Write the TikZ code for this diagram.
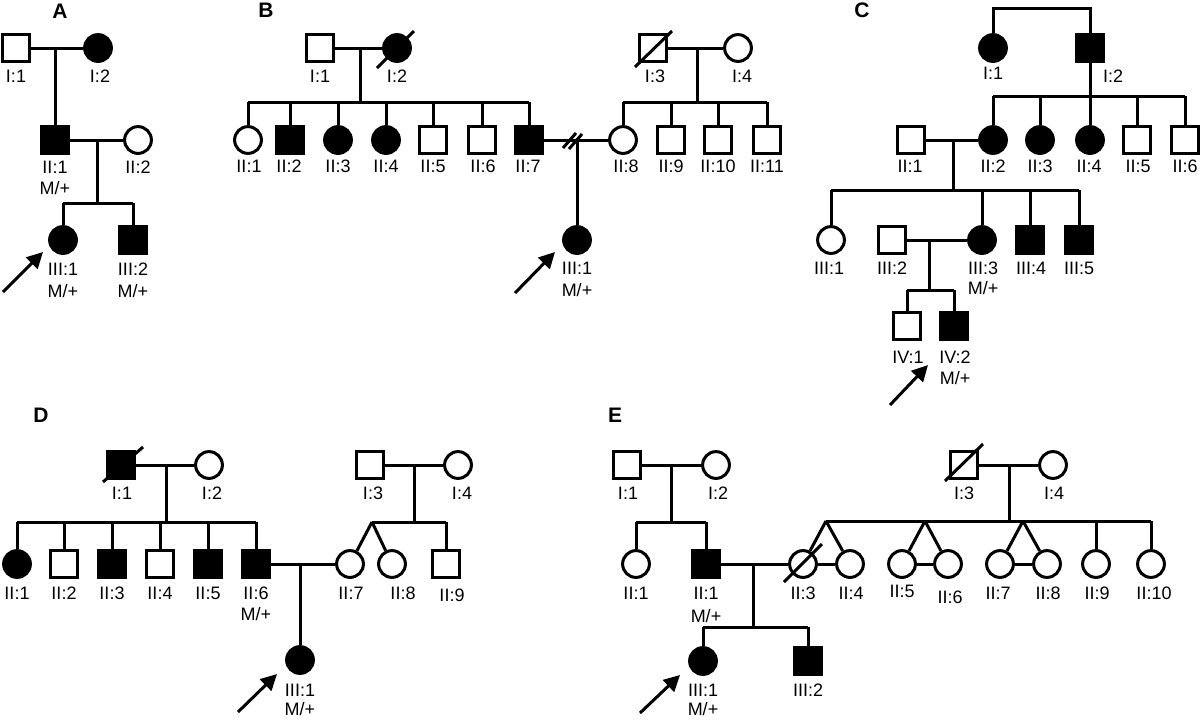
\documentclass[tikz,border=0pt]{standalone}
\usepackage{fontspec}
\setmainfont{Liberation Sans}
\usetikzlibrary{arrows.meta}
\tikzset{
 ln/.style={line width=1.5pt},
 male/.style={draw, rectangle, minimum size=13.4pt, inner sep=0pt, line width=1.5pt, fill=white},
 female/.style={draw, circle, minimum size=13.4pt, inner sep=0pt, line width=1.5pt, fill=white},
 aff/.style={fill=black},
 lab/.style={font=\fontsize{9}{10}\selectfont, inner sep=0pt},
 panel/.style={font=\bfseries\fontsize{10.5}{12}\selectfont, inner sep=0pt},
 proband/.style={line width=1.5pt, -{Triangle[length=8pt,width=8pt]}},
}
\begin{document}
\begin{tikzpicture}[x=0.5pt,y=-0.5pt]
\useasboundingbox (0,0) rectangle (1200,720);
% ================= Panel A =================
\node[panel] (pA) at (60,11) {A};
\node[male] (A11) at (16,48) {};
\node[female,aff] (A12) at (98,48) {};
\node[male,aff] (A21) at (55,140) {};
\node[female] (A22) at (138,140) {};
\node[female,aff] (A31) at (63,240) {};
\node[male,aff] (A32) at (133,240) {};
\node[lab] (lA11) at (16,76) {I:1};
\node[lab] (lA12) at (100,76) {I:2};
\node[lab] (lA21) at (55,167) {II:1};
\node[lab] (gA21) at (55,188) {M/+};
\node[lab] (lA22) at (138,167) {II:2};
\node[lab] (lA31) at (63,269) {III:1};
\node[lab] (gA31) at (63,291) {M/+};
\node[lab] (lA32) at (133,269) {III:2};
\node[lab] (gA32) at (133,291) {M/+};
\coordinate (mA1) at (55,48);
\coordinate (mA2) at (97,140);
\coordinate (sA2) at (97,203);
\draw[ln] (A11) -- (A12);
\draw[ln] (mA1) -- (A21);
\draw[ln] (A21) -- (A22);
\draw[ln] (mA2) -- (sA2);
\draw[ln] (A31 |- sA2) -- (A32 |- sA2);
\draw[ln] (A31 |- sA2) -- (A31);
\draw[ln] (A32 |- sA2) -- (A32);
\coordinate (tA) at (3,292);
\coordinate (hA) at (43,252);
\draw[proband] (tA) -- (hA);
% ================= Panel B =================
\node[panel] (pB) at (266,10) {B};
\node[male] (B11) at (320,48) {};
\node[female,aff] (B12) at (397,48) {};
\node[male] (B13) at (653,48) {};
\node[female] (B14) at (738,48) {};
\node[female] (B21) at (248,140) {};
\node[male,aff] (B22) at (290,140) {};
\node[female,aff] (B23) at (338,140) {};
\node[female,aff] (B24) at (386,140) {};
\node[male] (B25) at (433,140) {};
\node[male] (B26) at (482,140) {};
\node[male,aff] (B27) at (529,140) {};
\node[female] (B28) at (623,140) {};
\node[male] (B29) at (671,140) {};
\node[male] (B210) at (718,140) {};
\node[male] (B211) at (767,140) {};
\node[female,aff] (B31) at (577,240) {};
\node[lab] (lB11) at (320,76) {I:1};
\node[lab] (lB12) at (397,76) {I:2};
\node[lab] (lB13) at (655,76) {I:3};
\node[lab] (lB14) at (742,76) {I:4};
\node[lab] (lB21) at (249,166) {II:1};
\node[lab] (lB22) at (289,166) {II:2};
\node[lab] (lB23) at (338,166) {II:3};
\node[lab] (lB24) at (386,166) {II:4};
\node[lab] (lB25) at (433,166) {II:5};
\node[lab] (lB26) at (483,166) {II:6};
\node[lab] (lB27) at (528,166) {II:7};
\node[lab] (lB28) at (626,166) {II:8};
\node[lab] (lB29) at (671,166) {II:9};
\node[lab] (lB210) at (718,166) {II:10};
\node[lab] (lB211) at (767,166) {II:11};
\node[lab] (lB31) at (577,268) {III:1};
\node[lab] (gB31) at (577,290) {M/+};
\coordinate (mB1) at (360,48);
\coordinate (sB1) at (360,102);
\coordinate (mB2) at (697,48);
\coordinate (sB2) at (697,102);
\coordinate (mB3) at (577,140);
\coordinate (dsB) at (572,140);
\draw[ln] (B11) -- (B12);
\draw[ln] (B13) -- (B14);
\draw[ln] (mB1) -- (sB1);
\draw[ln] (mB2) -- (sB2);
\draw[ln] (B21 |- sB1) -- (B27 |- sB1);
\draw[ln] (B28 |- sB2) -- (B211 |- sB2);
\foreach \n in {B21,B22,B23,B24,B25,B26,B27}{\draw[ln] (\n |- sB1) -- (\n);}
\foreach \n in {B28,B29,B210,B211}{\draw[ln] (\n |- sB2) -- (\n);}
\draw[ln] (B27) -- (B28);
\draw[ln] ([shift={(-9,8)}]dsB) -- ([shift={(4,-7)}]dsB);
\draw[ln] ([shift={(-3,9)}]dsB) -- ([shift={(10,-6)}]dsB);
\draw[ln] (mB3) -- (B31);
\draw[ln] ([shift={(-20,20)}]B12.center) -- ([shift={(17,-17)}]B12.center);
\draw[ln] ([shift={(-18,19)}]B13.center) -- ([shift={(19,-17)}]B13.center);
\coordinate (tB) at (515,293);
\coordinate (hB) at (555,252);
\draw[proband] (tB) -- (hB);
% ================= Panel C =================
\node[panel] (pC) at (862,10) {C};
\node[female,aff] (C11) at (993,48) {};
\node[male,aff] (C12) at (1090,48) {};
\node[male] (C21) at (911,140) {};
\node[female,aff] (C22) at (993,140) {};
\node[female,aff] (C23) at (1040,140) {};
\node[female,aff] (C24) at (1090,140) {};
\node[male] (C25) at (1137,140) {};
\node[male] (C26) at (1185,140) {};
\node[female] (C31) at (831,240) {};
\node[male] (C32) at (892,240) {};
\node[female,aff] (C33) at (982,240) {};
\node[male,aff] (C34) at (1030,240) {};
\node[male,aff] (C35) at (1079,240) {};
\node[male] (C41) at (907,326) {};
\node[male,aff] (C42) at (954,326) {};
\node[lab] (lC11) at (993,73) {I:1};
\node[lab] (lC12) at (1113,76) {I:2};
\node[lab] (lC21) at (910,166) {II:1};
\node[lab] (lC22) at (993,166) {II:2};
\node[lab] (lC23) at (1040,166) {II:3};
\node[lab] (lC24) at (1089,166) {II:4};
\node[lab] (lC25) at (1138,166) {II:5};
\node[lab] (lC26) at (1185,166) {II:6};
\node[lab] (lC31) at (829,268) {III:1};
\node[lab] (lC32) at (892,268) {III:2};
\node[lab] (lC33) at (983,268) {III:3};
\node[lab] (gC33) at (983,288) {M/+};
\node[lab] (lC34) at (1031,268) {III:4};
\node[lab] (lC35) at (1079,268) {III:5};
\node[lab] (lC41) at (908,357) {IV:1};
\node[lab] (lC42) at (955,357) {IV:2};
\node[lab] (gC42) at (955,378) {M/+};
\coordinate (tC) at (1041,8);
\coordinate (sC1) at (1090,96);
\coordinate (mC2) at (953,140);
\coordinate (sC2) at (953,190);
\coordinate (mC3) at (929,240);
\coordinate (sC3) at (929,290);
\draw[ln] (C11) -- (C11 |- tC) -- (C12 |- tC) -- (C12);
\draw[ln] (C12) -- (sC1);
\draw[ln] (C22 |- sC1) -- (C26 |- sC1);
\foreach \n in {C22,C23,C24,C25,C26}{\draw[ln] (\n |- sC1) -- (\n);}
\draw[ln] (C21) -- (C22);
\draw[ln] (mC2) -- (sC2);
\draw[ln] (C31 |- sC2) -- (C35 |- sC2);
\foreach \n in {C31,C33,C34,C35}{\draw[ln] (\n |- sC2) -- (\n);}
\draw[ln] (C32) -- (C33);
\draw[ln] (mC3) -- (sC3);
\draw[ln] (C41 |- sC3) -- (C42 |- sC3);
\foreach \n in {C41,C42}{\draw[ln] (\n |- sC3) -- (\n);}
\coordinate (tCa) at (890,405);
\coordinate (hCa) at (928,365);
\draw[proband] (tCa) -- (hCa);
% ================= Panel D =================
\node[panel] (pD) at (41,415) {D};
\node[male,aff] (D11) at (121,465) {};
\node[female] (D12) at (209,465) {};
\node[male] (D13) at (370,465) {};
\node[female] (D14) at (458,465) {};
\node[female,aff] (D21) at (17,564) {};
\node[male] (D22) at (64,564) {};
\node[male,aff] (D23) at (112,564) {};
\node[male] (D24) at (160,564) {};
\node[male,aff] (D25) at (208,564) {};
\node[male,aff] (D26) at (256,564) {};
\node[female] (D27) at (350,564) {};
\node[female] (D28) at (392,564) {};
\node[male] (D29) at (446,564) {};
\node[female,aff] (D31) at (300,660) {};
\node[lab] (lD11) at (122,493) {I:1};
\node[lab] (lD12) at (212,493) {I:2};
\node[lab] (lD13) at (373,493) {I:3};
\node[lab] (lD14) at (462,493) {I:4};
\node[lab] (lD21) at (17,593) {II:1};
\node[lab] (lD22) at (64,593) {II:2};
\node[lab] (lD23) at (112,593) {II:3};
\node[lab] (lD24) at (160,593) {II:4};
\node[lab] (lD25) at (208,593) {II:5};
\node[lab] (lD26) at (256,593) {II:6};
\node[lab] (gD26) at (256,614) {M/+};
\node[lab] (lD27) at (351,593) {II:7};
\node[lab] (lD28) at (403,593) {II:8};
\node[lab] (lD29) at (452,595) {II:9};
\node[lab] (lD31) at (300,690) {III:1};
\node[lab] (gD31) at (300,709) {M/+};
\coordinate (mD1) at (166,465);
\coordinate (sD1) at (166,522);
\coordinate (mD2) at (414,465);
\coordinate (sD2) at (414,522);
\coordinate (twD) at (372,522);
\coordinate (mD3) at (300,564);
\draw[ln] (D11) -- (D12);
\draw[ln] (D13) -- (D14);
\draw[ln] (mD1) -- (sD1);
\draw[ln] (mD2) -- (sD2);
\draw[ln] (D21 |- sD1) -- (D26 |- sD1);
\foreach \n in {D21,D22,D23,D24,D25,D26}{\draw[ln] (\n |- sD1) -- (\n);}
\draw[ln] (twD) -- (D29 |- sD2);
\draw[ln] (D29 |- sD2) -- (D29);
\draw[ln] (twD) -- (D27);
\draw[ln] (twD) -- (D28);
\draw[ln] (D26) -- (D27);
\draw[ln] (mD3) -- (D31);
\draw[ln] ([shift={(-18,17)}]D11.center) -- ([shift={(22,-18)}]D11.center);
\coordinate (tD) at (238,712);
\coordinate (hD) at (277,674);
\draw[proband] (tD) -- (hD);
% ================= Panel E =================
\node[panel] (pE) at (615,415) {E};
\node[male] (E11) at (627,465) {};
\node[female] (E12) at (716,465) {};
\node[male] (E13) at (964,465) {};
\node[female] (E14) at (1053,465) {};
\node[female] (E21) at (636,564) {};
\node[male,aff] (E22) at (706,564) {};
\node[female] (E23) at (803,564) {};
\node[female] (E24) at (850,564) {};
\node[female] (E25) at (902,564) {};
\node[female] (E26) at (948,564) {};
\node[female] (E27) at (1000,564) {};
\node[female] (E28) at (1047,564) {};
\node[female] (E29) at (1096,564) {};
\node[female] (E210) at (1151,564) {};
\node[female,aff] (E31) at (703,661) {};
\node[male,aff] (E32) at (808,661) {};
\node[lab] (lE11) at (628,493) {I:1};
\node[lab] (lE12) at (718,493) {I:2};
\node[lab] (lE13) at (964,493) {I:3};
\node[lab] (lE14) at (1054,493) {I:4};
\node[lab] (lE21) at (636,593) {II:1};
\node[lab] (lE22) at (706,593) {II:1};
\node[lab] (gE22) at (706,616) {M/+};
\node[lab] (lE23) at (803,593) {II:3};
\node[lab] (lE24) at (851,593) {II:4};
\node[lab] (lE25) at (902,591) {II:5};
\node[lab] (lE26) at (950,597) {II:6};
\node[lab] (lE27) at (998,593) {II:7};
\node[lab] (lE28) at (1048,593) {II:8};
\node[lab] (lE29) at (1097,593) {II:9};
\node[lab] (lE210) at (1154,593) {II:10};
\node[lab] (lE31) at (703,690) {III:1};
\node[lab] (gE31) at (703,709) {M/+};
\node[lab] (lE32) at (808,690) {III:2};
\coordinate (mE1) at (671,465);
\coordinate (sE1) at (671,522);
\coordinate (mE2) at (1009,465);
\coordinate (sE2) at (1009,521);
\coordinate (twE1) at (826,521);
\coordinate (twE2) at (925,521);
\coordinate (twE3) at (1023,521);
\coordinate (mE3) at (753,564);
\coordinate (sE3) at (753,627);
\draw[ln] (E11) -- (E12);
\draw[ln] (E13) -- (E14);
\draw[ln] (mE1) -- (sE1);
\draw[ln] (E21 |- sE1) -- (E22 |- sE1);
\foreach \n in {E21,E22}{\draw[ln] (\n |- sE1) -- (\n);}
\draw[ln] (mE2) -- (sE2);
\draw[ln] (twE1) -- (E210 |- sE2);
\draw[ln] (twE1) -- (E23);
\draw[ln] (twE1) -- (E24);
\draw[ln] (twE2) -- (E25);
\draw[ln] (twE2) -- (E26);
\draw[ln] (twE3) -- (E27);
\draw[ln] (twE3) -- (E28);
\draw[ln] (E23) -- (E24);
\draw[ln] (E25) -- (E26);
\draw[ln] (E27) -- (E28);
\foreach \n in {E29,E210}{\draw[ln] (\n |- sE2) -- (\n);}
\draw[ln] (E22) -- (E23);
\draw[ln] (mE3) -- (sE3);
\draw[ln] (E31 |- sE3) -- (E32 |- sE3);
\foreach \n in {E31,E32}{\draw[ln] (\n |- sE3) -- (\n);}
\draw[ln] ([shift={(-19,16)}]E13.center) -- ([shift={(19,-21)}]E13.center);
\draw[ln] ([shift={(-19,18)}]E23.center) -- ([shift={(19,-20)}]E23.center);
\coordinate (tE) at (640,713);
\coordinate (hE) at (680,675);
\draw[proband] (tE) -- (hE);
\end{tikzpicture}
\end{document}
